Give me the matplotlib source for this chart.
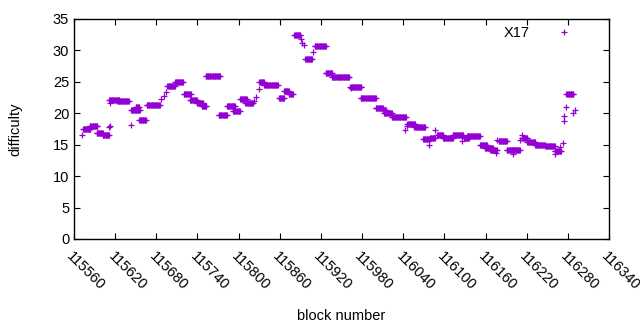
import numpy as np
from matplotlib import pyplot as plt

plt.rcParams['font.family'] = ['Liberation Sans', 'DejaVu Sans']

# runs of consecutive blocks with the same difficulty
run_start = [115573, 115583, 115593, 115602, 115611, 115623, 115643, 115650,
             115655, 115666, 115696, 115707, 115720, 115729, 115739, 115746,
             115752, 115771, 115783, 115792, 115802, 115810, 115830, 115837,
             115859, 115866, 115873, 115881, 115897, 115911, 115927, 115936,
             115963, 115978, 116000, 116011, 116012, 116023, 116046, 116056,
             116069, 116079, 116089, 116098, 116112, 116129, 116133, 116152,
             116159, 116167, 116179, 116191, 116200, 116213, 116221, 116232,
             116247, 116261, 116278]
run_end = [115584, 115594, 115602, 115611, 115626, 115640, 115656, 115655,
           115665, 115685, 115707, 115719, 115730, 115739, 115748, 115753,
           115773, 115783, 115795, 115802, 115812, 115821, 115837, 115857,
           115866, 115873, 115879, 115890, 115907, 115927, 115936, 115961,
           115979, 116000, 116010, 116015, 116023, 116044, 116057, 116072,
           116079, 116086, 116098, 116112, 116127, 116136, 116152, 116162,
           116171, 116176, 116191, 116200, 116210, 116221, 116232, 116247,
           116261, 116270, 116288]
run_diff = [17.5, 18.0, 16.9, 16.6, 22.1, 21.9, 20.6, 21.0,
            19.0, 21.3, 24.3, 25.05, 23.0, 22.1, 21.6, 21.2,
            26.0, 19.8, 21.2, 20.3, 22.2, 21.6, 25.0, 24.45,
            22.4, 23.6, 23.1, 32.4, 28.6, 30.75, 26.4, 25.7,
            24.2, 22.5, 20.8, 20.5, 20.1, 19.4, 18.25, 17.8,
            15.9, 16.1, 16.6, 16.0, 16.6, 16.0, 16.35, 15.0,
            14.5, 14.2, 15.55, 14.2, 14.1, 16.0, 15.5, 14.95,
            14.75, 14.0, 23.0]

# isolated blocks
single_block = [115572, 115608, 115611, 115612, 115613, 115643, 115687, 115691,
                115694, 115822, 115825, 115829, 115891, 115892, 115895, 115908,
                115964, 116043, 116046, 116078, 116086, 116126, 116175, 116177,
                116200, 116210, 116213, 116261, 116269, 116273, 116274, 116275,
                116278, 116288, 116290]
single_diff = [16.5, 16.5, 17.8, 18.0, 21.6, 18.2, 22.2, 22.8,
               23.4, 22.0, 22.6, 23.9, 31.8, 31.2, 30.8, 29.8,
               24.0, 17.3, 17.9, 15.0, 17.3, 15.6, 13.7, 15.7,
               13.6, 15.75, 16.5, 13.5, 14.7, 15.3, 18.7, 19.5,
               21.05, 20.0, 20.6]

blocks = list(single_block)
diffs = list(single_diff)
for s, e, d in zip(run_start, run_end, run_diff):
    for b in range(s, e + 1):
        blocks.append(b)
        diffs.append(d)

fig = plt.figure(figsize=(6.4, 3.3), dpi=100)
ax = fig.add_axes([74 / 640, 91 / 330, 535 / 640, 220 / 330])
ax.plot(blocks, diffs, linestyle='none', marker='+', markersize=5.0,
        markeredgewidth=0.9, color='#9400d3', label='X17')

ax.set_xlim(115560, 116340)
ax.set_ylim(0, 35)
ax.set_xticks(np.arange(115560, 116341, 60))
ax.set_yticks(np.arange(0, 36, 5))
ax.tick_params(direction='in', top=True, right=True, length=4, labelsize=10.5)
ax.tick_params(axis='x', pad=7)
for lbl in ax.get_xticklabels():
    lbl.set_rotation(-45)
    lbl.set_ha('left')
    lbl.set_va('top')
    lbl.set_rotation_mode('anchor')
for sp in ax.spines.values():
    sp.set_linewidth(1)

ax.set_xlabel("block number", fontsize=10.5, labelpad=12)
ax.set_ylabel("difficulty", fontsize=10.5, labelpad=22)
ax.legend(loc='upper right', frameon=False, markerfirst=False, fontsize=10.5,
          handlelength=3.4, handletextpad=0.6, borderaxespad=0.1,
          bbox_to_anchor=(0.975, 1.0))

plt.savefig('out.png')
